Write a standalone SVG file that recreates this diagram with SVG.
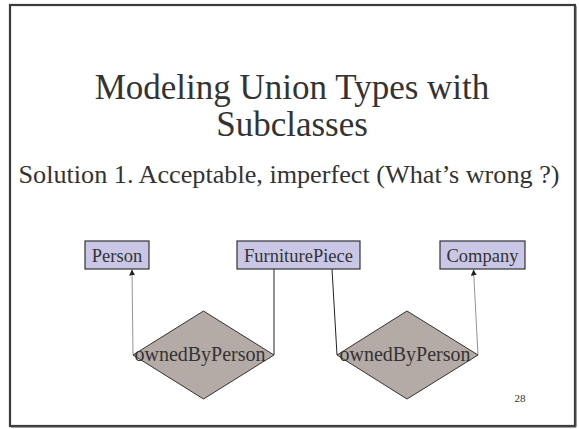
<svg xmlns="http://www.w3.org/2000/svg" width="579" height="429" viewBox="0 0 579 429">
  <style>
    .txt { font-family: "Liberation Serif", "Times New Roman", serif; fill: #333333; }
    .entity { fill: #c9c7e5; stroke: #333333; stroke-width: 1.2; }
    .rel { fill: #b4aaa6; stroke: #333333; stroke-width: 1; }
    .link { fill: none; stroke: #222222; stroke-width: 1; }
    .ref { fill: none; stroke: #777777; stroke-width: 0.8; }
    .label { font-size: 18.5px; text-anchor: middle; }
  </style>
  <defs>
    <marker id="arrow" viewBox="0 0 8 8" refX="8" refY="4" markerWidth="6" markerHeight="6" orient="auto" markerUnits="userSpaceOnUse">
      <path d="M0,0 L8,4 L0,8 z" fill="#222222"/>
    </marker>
  </defs>

  <!-- slide frame -->
  <rect x="0" y="0" width="579" height="429" fill="#ffffff"/>
  <rect x="10" y="5" width="565" height="421" fill="none" stroke="#3a3a3a" stroke-width="2.2"/>
  <path d="M576 6 V427 H11" fill="none" stroke="#555555" stroke-width="1"/>

  <!-- headings -->
  <text class="txt" x="292" y="99" font-size="35" text-anchor="middle">Modeling Union Types with</text>
  <text class="txt" x="292" y="136" font-size="35" text-anchor="middle">Subclasses</text>
  <text class="txt" x="289" y="183" font-size="26.2" text-anchor="middle">Solution 1. Acceptable, imperfect (What’s wrong ?)</text>

  <!-- connectors -->
  <g id="connectors">
    <line class="ref" x1="133" y1="355" x2="132" y2="269.5" marker-end="url(#arrow)"/>
    <line class="link" x1="274" y1="355" x2="274" y2="269"/>
    <line class="link" x1="332" y1="269" x2="337" y2="355"/>
    <line class="ref" x1="478" y1="355" x2="473.5" y2="269.5" marker-end="url(#arrow)"/>
  </g>

  <g id="person">
    <rect class="entity" x="85" y="241" width="64" height="28"/>
    <text class="txt label" x="117" y="261.5">Person</text>
  </g>
  <g id="furniturePiece">
    <rect class="entity" x="237" y="241" width="123" height="28"/>
    <text class="txt label" x="298.5" y="261.5">FurniturePiece</text>
  </g>
  <g id="company">
    <rect class="entity" x="440" y="241" width="85" height="28"/>
    <text class="txt label" x="482.5" y="261.5">Company</text>
  </g>

  <g id="ownedByPerson1">
    <polygon class="rel" points="203.5,311 274,355 203.5,399 133,355"/>
    <text class="txt" x="200" y="361" font-size="20" text-anchor="middle">ownedByPerson</text>
  </g>
  <g id="ownedByPerson2">
    <polygon class="rel" points="407,311 478,355 407,399 337,355"/>
    <text class="txt" x="405" y="361" font-size="20" text-anchor="middle">ownedByPerson</text>
  </g>

  <text class="txt" x="520" y="402" font-size="11" text-anchor="middle">28</text>
</svg>
